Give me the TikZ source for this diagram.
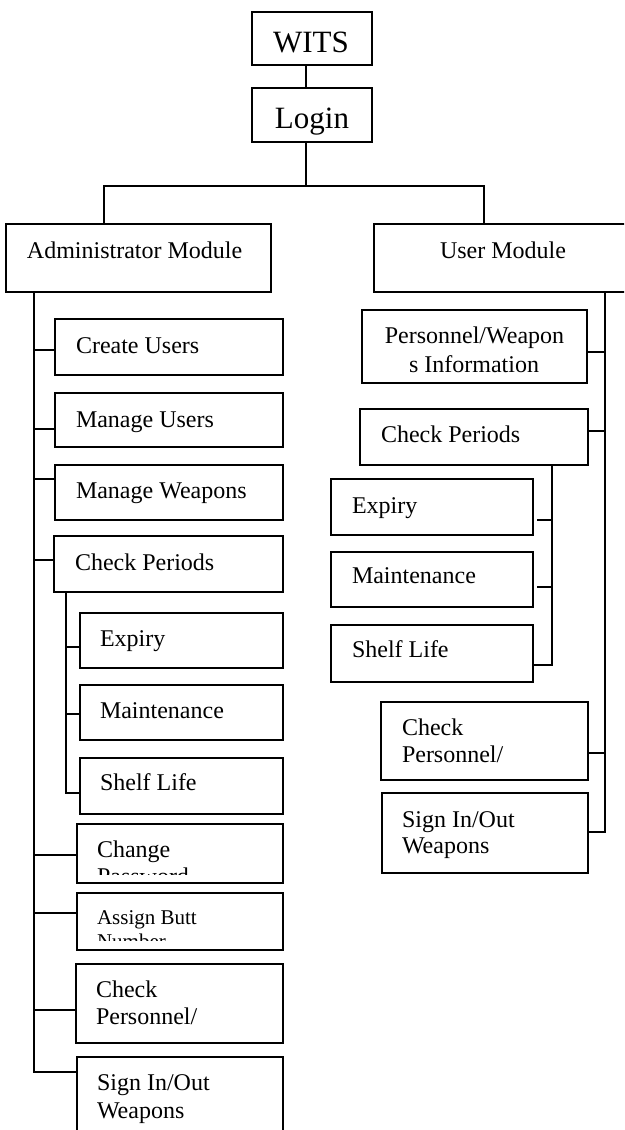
\documentclass[tikz,border=0pt]{standalone}
\usepackage{fontspec}
\setmainfont{Liberation Serif}
\newcommand\mybox[5]{\node[box, anchor=north west, minimum width={(#4-#2)*1pt}, minimum height={(#5-#3)*1pt}] (#1) at (#2,#3) {};}
\begin{document}
\begin{tikzpicture}[x=1pt,y=-1pt,
  box/.style={draw=black, line width=1.5pt, rectangle, inner sep=0pt, outer sep=0pt},
  link/.style={draw=black, line width=1.4pt},
  txt/.style={inner sep=0pt, outer sep=0pt, font=\fontsize{24}{27}\selectfont},
  bigtxt/.style={inner sep=0pt, outer sep=0pt, font=\fontsize{31}{34}\selectfont},
  smalltxt/.style={inner sep=0pt, outer sep=0pt, font=\fontsize{21}{24}\selectfont}]
\useasboundingbox (0,0) rectangle (624,1130);
\clip (0,0) rectangle (624,1130);
\fill[white] (0,0) rectangle (624,1130);
% boxes
\mybox{wits}{252}{12}{372}{65}
\mybox{login}{252}{88}{372}{142}
\mybox{admin}{6}{224}{271}{292}
\mybox{user}{374}{224}{634}{292}
\mybox{cu}{55}{319}{283}{375}
\mybox{mu}{55}{393}{283}{447}
\mybox{mw}{55}{465}{283}{520}
\mybox{cp}{54}{536}{283}{592}
\mybox{ex}{80}{613}{283}{668}
\mybox{ma}{80}{685}{283}{740}
\mybox{sl}{80}{758}{283}{814}
\mybox{ch}{77}{824}{283}{883}
\mybox{ab}{77}{893}{283}{950}
\mybox{cpl}{76}{964}{283}{1043}
\mybox{sg}{77}{1057}{283}{1145}
\mybox{pwi}{362}{310}{587}{383}
\mybox{rcp}{360}{409}{588}{465}
\mybox{rex}{331}{479}{533}{535}
\mybox{rma}{331}{552}{533}{607}
\mybox{rsl}{331}{625}{533}{682}
\mybox{rcpl}{381}{702}{588}{780}
\mybox{rsg}{382}{793}{588}{873}
% texts
\node[bigtxt, anchor=base] (wits-t) at (311,52) {WITS};
\node[bigtxt, anchor=base] (login-t) at (312,128) {Login};
\node[txt, anchor=base west] (admin-t) at (27,258) {Administrator Module};
\node[txt, anchor=base west] (user-t) at (440,258) {User Module};
\node[txt, anchor=base west] (cu-t) at (76,353) {Create Users};
\node[txt, anchor=base west] (mu-t) at (76,427) {Manage Users};
\node[txt, anchor=base west] (mw-t) at (76,498) {Manage Weapons};
\node[txt, anchor=base west] (cp-t) at (75,570) {Check Periods};
\node[txt, anchor=base west] (ex-t) at (100,646) {Expiry};
\node[txt, anchor=base west] (ma-t) at (100,718) {Maintenance};
\node[txt, anchor=base west] (sl-t) at (100,790) {Shelf Life};
\begin{scope}
\clip (77,824) rectangle (283,874);
\node[txt, anchor=base west] (ch-t) at (97,857) {Change};
\node[txt, anchor=base west] (ch-t2) at (97,884) {Password};
\end{scope}
\begin{scope}
\clip (77,893) rectangle (283,940);
\node[smalltxt, anchor=base west] (ab-t) at (97,924) {Assign Butt};
\node[smalltxt, anchor=base west] (ab-t2) at (97,948) {Number};
\end{scope}
\node[txt, anchor=base west] (cpl-t) at (96,997) {Check};
\node[txt, anchor=base west] (cpl-t2) at (96,1024) {Personnel/};
\node[txt, anchor=base west] (sg-t) at (97,1090) {Sign In/Out};
\node[txt, anchor=base west] (sg-t2) at (97,1118) {Weapons};
\node[txt, anchor=base] (pwi-t) at (474.5,343) {Personnel/Weapon};
\node[txt, anchor=base] (pwi-t2) at (474,372) {s Information};
\node[txt, anchor=base west] (rcp-t) at (381,442) {Check Periods};
\node[txt, anchor=base west] (rex-t) at (352,513) {Expiry};
\node[txt, anchor=base west] (rma-t) at (352,583) {Maintenance};
\node[txt, anchor=base west] (rsl-t) at (352,657) {Shelf Life};
\node[txt, anchor=base west] (rcpl-t) at (402,735) {Check};
\node[txt, anchor=base west] (rcpl-t2) at (402,762) {Personnel/};
\node[txt, anchor=base west] (rsg-t) at (402,827) {Sign In/Out};
\node[txt, anchor=base west] (rsg-t2) at (402,853) {Weapons};
% top connectors
\coordinate (hub) at (306,186);
\draw[link] ([xshift=-6pt]wits.south) -- ([xshift=-6pt]login.north);
\draw[link] ([xshift=-6pt]login.south) -- (hub);
\draw[link] (hub) -| ([xshift=98pt]admin.north west);
\draw[link] (hub) -| ([xshift=110pt]user.north west);
% admin trunk
\coordinate (atop) at ([xshift=28pt]admin.south west);
\draw[link] (atop) |- (sg.west |- 0,1072);
\draw[link] (cu.west |- 0,350) -- (atop |- 0,350);
\draw[link] (mu.west |- 0,429) -- ([xshift=-1pt]atop |- 0,429);
\draw[link] (mw.west |- 0,479) -- ([xshift=-1pt]atop |- 0,479);
\draw[link] (cp.west |- 0,560) -- ([xshift=-1pt]atop |- 0,560);
\draw[link] (ch.west |- 0,855) -- (atop |- 0,855);
\draw[link] (ab.west |- 0,913) -- (atop |- 0,913);
\draw[link] (cpl.west |- 0,1010) -- (atop |- 0,1010);
% admin check periods sub-trunk
\coordinate (ctop) at (cp.south west -| 66,0);
\draw[link] (ctop) |- (sl.west |- 0,793);
\draw[link] (ex.west |- 0,647) -- (ctop |- 0,647);
\draw[link] (ma.west |- 0,714) -- (ctop |- 0,714);
% user trunk
\coordinate (utop) at (user.south -| 605,0);
\draw[link] (utop) |- (rsg.east |- 0,832);
\draw[link] (pwi.east |- 0,352) -- (utop |- 0,352);
\draw[link] (rcp.east |- 0,431) -- (utop |- 0,431);
\draw[link] (rcpl.east |- 0,753) -- (utop |- 0,753);
% user check periods sub-trunk
\coordinate (rtop) at (rcp.south -| 552,0);
\draw[link] (rtop) |- ([xshift=1pt]rsl.east |- 0,665);
\draw[link] ([xshift=4pt]rex.east |- 0,520) -- (rtop |- 0,520);
\draw[link] ([xshift=4pt]rma.east |- 0,587) -- (rtop |- 0,587);
\end{tikzpicture}
\end{document}
